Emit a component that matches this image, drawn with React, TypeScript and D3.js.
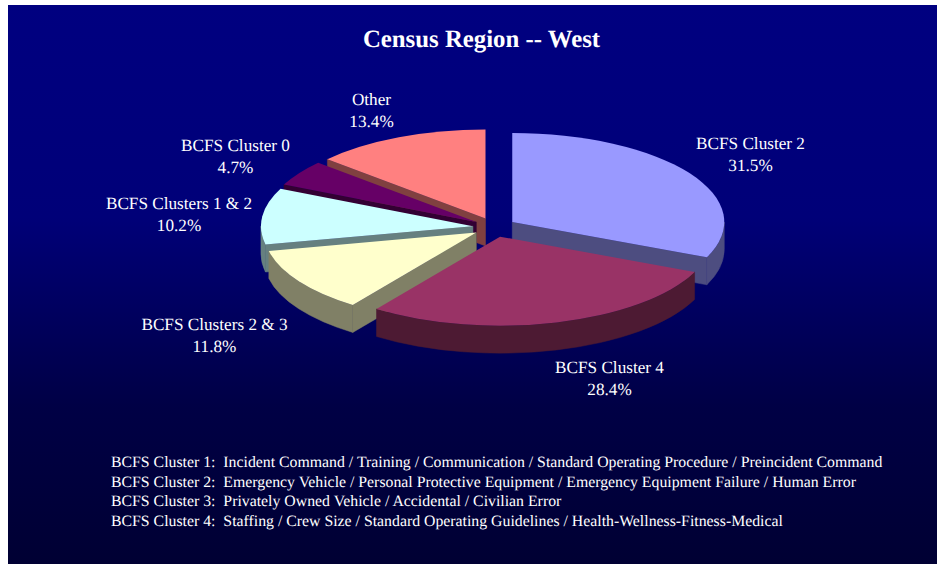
import React from 'react';
import * as d3 from 'd3';

const WIDTH = 937;
const HEIGHT = 564;

const categories = [
  'BCFS Cluster 2',
  'BCFS Cluster 4',
  'BCFS Clusters 2 & 3',
  'BCFS Clusters 1 & 2',
  'BCFS Cluster 0',
  'Other',
];
const shares = [31.5, 28.4, 11.8, 10.2, 4.7, 13.4];
const topColors = ['#9999ff', '#993366', '#ffffcc', '#ccffff', '#660066', '#ff8080'];
// back to front, so nearer slices hide the walls behind them
const paintOrder = [5, 4, 3, 0, 2, 1];
// centre x and first baseline of each two-line label
const labelPositions = [
  [750.5, 149],
  [609.5, 373],
  [214.5, 330],
  [179, 209],
  [235.5, 151],
  [371.5, 105],
];
const footnotes = [
  'BCFS Cluster 1:  Incident Command / Training / Communication / Standard Operating Procedure / Preincident Command',
  'BCFS Cluster 2:  Emergency Vehicle / Personal Protective Equipment / Emergency Equipment Failure / Human Error',
  'BCFS Cluster 3:  Privately Owned Vehicle / Accidental / Civilian Error',
  'BCFS Cluster 4:  Staffing / Crew Size / Standard Operating Guidelines / Health-Wellness-Fitness-Medical',
];

const cx = 494.3;
const cy = 227.3;
const rx = 212;
const ry = 89;
const depth = 27.5;
const explodeX = 21.5;
const explodeY = 9.7;
const FONT = '"Liberation Serif", "Times New Roman", serif';

const pie = d3.pie<number>().sort(null).value((d) => d);
const slices = pie(shares);
const topArc = d3.arc<d3.PieArcDatum<number>>().innerRadius(0).outerRadius(rx);

const apexOf = (s: d3.PieArcDatum<number>) => {
  const mid = (s.startAngle + s.endAngle) / 2;
  return [cx + explodeX * Math.sin(mid), cy - explodeY * Math.cos(mid)];
};

const rimPoint = (a: number) => [rx * Math.sin(a), -ry * Math.cos(a)];

// outer wall, only the part of the rim that faces the viewer
const rimPath = (s: d3.PieArcDatum<number>) => {
  const a0 = Math.max(s.startAngle, Math.PI / 2);
  const a1 = Math.min(s.endAngle, (3 * Math.PI) / 2);
  if (a1 <= a0) return null;
  const [x0, y0] = rimPoint(a0);
  const [x1, y1] = rimPoint(a1);
  return `M${x0},${y0}A${rx},${ry} 0 0 1 ${x1},${y1}L${x1},${y1 + depth}A${rx},${ry} 0 0 0 ${x0},${y0 + depth}Z`;
};

// flat cut face along one radius of the slice
const cutPath = (a: number) => {
  const [x, y] = rimPoint(a);
  return `M0,0L${x},${y}L${x},${y + depth}L0,${depth}Z`;
};

const Slice = ({ index }: { index: number }) => {
  const s = slices[index];
  const [ax, ay] = apexOf(s);
  const rgb = d3.rgb(topColors[index]);
  const wallColor = d3.rgb(rgb.r / 2, rgb.g / 2, rgb.b / 2).formatHex();
  const rim = rimPath(s);
  const endWall = Math.sin(s.endAngle) > 1e-6;
  const startWall = Math.sin(s.startAngle) < -1e-6;
  return (
    <g transform={`translate(${ax},${ay})`}>
      {startWall && <path d={cutPath(s.startAngle)} fill={wallColor} stroke={wallColor} strokeWidth={0.5} />}
      {endWall && <path d={cutPath(s.endAngle)} fill={wallColor} stroke={wallColor} strokeWidth={0.5} />}
      {rim && <path d={rim} fill={wallColor} stroke={wallColor} strokeWidth={0.5} />}
      <path d={topArc(s)!} transform={`scale(1,${ry / rx})`} fill={topColors[index]} />
    </g>
  );
};

export default function App() {
  return (
    <svg
      width={WIDTH}
      height={HEIGHT}
      style={{ position: 'absolute', left: 0, top: 0, display: 'block', fontFamily: FONT, textRendering: 'geometricPrecision' }}
    >
      <defs>
        <linearGradient id="bg" x1="0" y1="0" x2="0" y2="1">
          <stop offset="0" stopColor="#000080" />
          <stop offset="0.38" stopColor="#000078" />
          <stop offset="0.72" stopColor="#000045" />
          <stop offset="1" stopColor="#000033" />
        </linearGradient>
      </defs>
      <rect x={8} y={5} width={WIDTH - 8} height={HEIGHT - 5} fill="url(#bg)" />
      <text x={481.5} y={47} textAnchor="middle" fontSize={24.8} fontWeight="bold" fill="#fff">
        Census Region -- West
      </text>
      {paintOrder.map((i) => (
        <Slice key={categories[i]} index={i} />
      ))}
      {categories.map((c, i) => (
        <text key={c} textAnchor="middle" fontSize={17.2} fill="#fff">
          <tspan x={labelPositions[i][0]} y={labelPositions[i][1]}>{c}</tspan>
          <tspan x={labelPositions[i][0]} y={labelPositions[i][1] + 21.5}>{d3.format('.1f')(shares[i])}%</tspan>
        </text>
      ))}
      {footnotes.map((f, i) => (
        <text key={f} x={111} y={467 + i * 19.7} fontSize={15.8} fill="#fff" style={{ whiteSpace: 'pre' }}>
          {f}
        </text>
      ))}
    </svg>
  );
}
